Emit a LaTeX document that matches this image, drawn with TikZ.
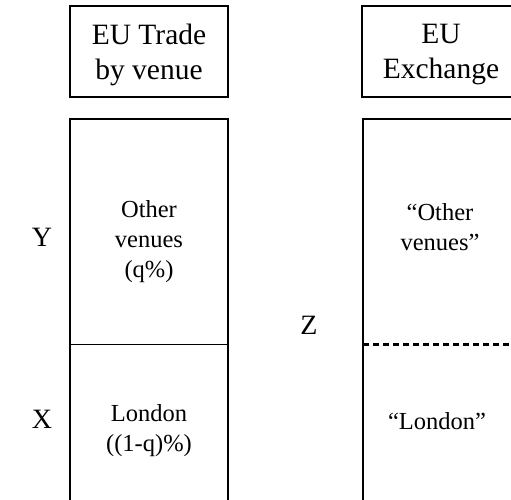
\documentclass[tikz,border=0pt]{standalone}
\usepackage{fontspec}
\setmainfont{Liberation Serif}
\begin{document}
\begin{tikzpicture}[x=1pt,y=-1pt,
  boxline/.style={draw=black,line width=1.2pt},
  headtext/.style={align=center,inner sep=0pt,font=\fontsize{29.5}{35}\selectfont},
  bodytext/.style={align=center,inner sep=0pt,font=\fontsize{24.5}{30}\selectfont},
  axislabel/.style={inner sep=0pt,font=\fontsize{28}{33}\selectfont}]
\useasboundingbox (0,0) rectangle (511,500);
\clip (0,0) rectangle (511,500);
% header boxes
\node[boxline,minimum width=158pt,minimum height=91pt,inner sep=0pt] (h1) at (149,51.5) {};
\node[headtext] (h1t) at (149,54.5) {EU Trade\\by venue};
\node[boxline,minimum width=158pt,minimum height=91pt,inner sep=0pt] (h2) at (441,51.5) {};
\node[headtext] (h2t) at (441,54.5) {EU\\Exchange};
% left column
\coordinate (l1) at (70,119);
\coordinate (l2) at (228,119);
\coordinate (l3) at (70,505);
\coordinate (l4) at (228,505);
\coordinate (ld1) at (70,344.5);
\coordinate (ld2) at (228,344.5);
\draw[boxline] (l3) -- (l1) -- (l2) -- (l4);
\draw[draw=black,line width=1pt] (ld1) -- (ld2);
\node[bodytext] (ov) at (149,242) {Other\\venues\\(q\%)};
\node[bodytext] (lo) at (149,431) {London\\((1-q)\%)};
% right column
\coordinate (r1) at (363,119);
\coordinate (r2) at (520,119);
\coordinate (r3) at (363,505);
\coordinate (rd1) at (363,344.5);
\coordinate (rd2) at (520,344.5);
\draw[boxline] (r3) -- (r1) -- (r2);
\draw[draw=black,line width=2.3pt,dash pattern=on 6pt off 4pt] (rd1) -- (rd2);
\node[bodytext] (rov) at (440,227) {“Other\\venues”};
\node[bodytext] (rlo) at (437,421) {“London”};
% labels
\node[axislabel] (Y) at (42,237) {Y};
\node[axislabel] (X) at (42,419) {X};
\node[axislabel] (Z) at (309,325) {Z};
\end{tikzpicture}
\end{document}
